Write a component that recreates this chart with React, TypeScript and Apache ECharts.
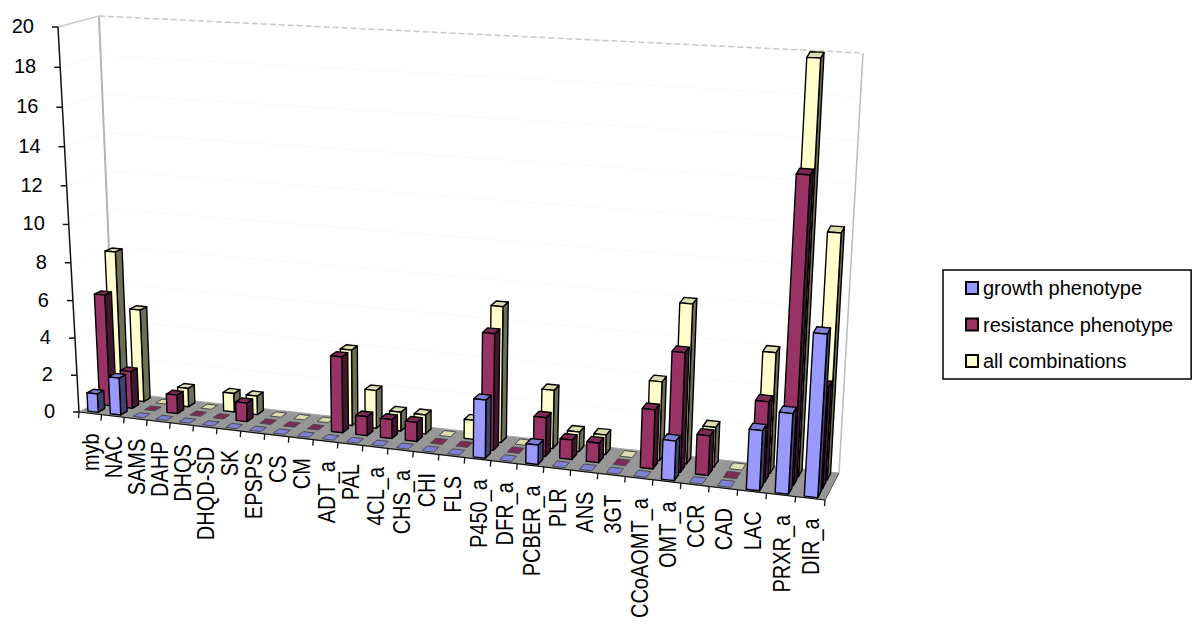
import React, { useEffect, useRef } from "react";
import * as echarts from "echarts";

const categories = ["myb","NAC","SAMS","DAHP","DHQS","DHQD-SD","SK","EPSPS","CS","CM","ADT_a","PAL","4CL_a","CHS_a","CHI","FLS","P450_a","DFR_a","PCBER_a","PLR","ANS","3GT","CCoAOMT_a","OMT_a","CCR","CAD","LAC","PRXR_a","DIR_a"];
const growth = [1,2,0,0,0,0,0,0,0,0,0,0,0,0,0,0,3,0,1,0,0,0,0,2,0,0,3,4,8];
const resistance = [6,2,0,1,0,0,1,0,0,0,4,1,1,1,0,0,6,0,2,1,1,0,3,6,2,0,4,15,5];
const allCombinations = [8,5,0,1,0,1,1,0,0,0,4,2,1,1,0,1,7,0,3,1,1,0,4,8,2,0,6,20,12];
const yTicks = [0,2,4,6,8,10,12,14,16,18,20];

const FONT = '"Liberation Sans", Arial, sans-serif';
const GRID = { left: 79, top: 27, width: 746, height: 385 };
type P = [number, number];
const FLB: P = [79, 412], FRB: P = [825, 500], BLB: P = [115, 392], BRB: P = [839, 473];
const FLT: P = [58, 27], FRT: P = [850, 78], BLT: P = [99, 16], BRT: P = [863, 53];

const mix = (a: P, b: P, t: number): P => [a[0] + (b[0] - a[0]) * t, a[1] + (b[1] - a[1]) * t];
const persp = (t: number, a: number) => (t * a) / (1 + (a - 1) * t);

// Scene projection: grid pixel from the axes' scales -> oblique 3D picture position
function project(px: number, py: number, d: number): P {
  const u = persp((px - GRID.left) / GRID.width, 0.87);
  const h = persp((GRID.top + GRID.height - py) / GRID.height, 0.95);
  const bottom = mix(mix(FLB, FRB, u), mix(BLB, BRB, u), d);
  const top = mix(mix(FLT, FRT, u), mix(BLT, BRT, u), d);
  return mix(bottom, top, h);
}
function at(api: any, pos: number, v: number, d: number): P {
  const c0 = api.coord([0, v]);
  const band = api.size([1, 0])[0];
  return project(c0[0] + pos * band, c0[1], d);
}
const poly = (points: P[], fill: string, stroke: string, lw = 1.4) => ({
  type: "polygon", shape: { points }, style: { fill, stroke, lineWidth: lw, lineJoin: "round" },
});
const line = (a: P, b: P, stroke: string, lw = 1, dash?: number[]) => ({
  type: "line", shape: { x1: a[0], y1: a[1], x2: b[0], y2: b[1] },
  style: { stroke, lineWidth: lw, lineDash: dash, fill: "none" },
});

function barSeries(name: string, values: number[], depth: number, front: string, side: string, top: string, z: number) {
  const hw = 0.23;
  return {
    type: "custom", name, z, silent: true,
    coordinateSystem: "cartesian2d",
    itemStyle: { color: front, borderColor: "#000", borderWidth: 1.5 },
    encode: { x: 0, y: 1 },
    data: values.map((v, i) => [i, v]),
    renderItem: (_: any, api: any) => {
      const i = api.value(0), v = api.value(1);
      const hd = 0.09 + (0.03 * i) / categories.length;
      const d0 = depth - hd, d1 = depth + hd, u0 = i - hw, u1 = i + hw;
      const topFace = [at(api, u0, v, d0), at(api, u1, v, d0), at(api, u1, v, d1), at(api, u0, v, d1)];
      if (v === 0) return { type: "group", children: [poly(topFace, top, "#4a4a4a", 1)] };
      return {
        type: "group",
        children: [
          poly([at(api, u1, 0, d0), at(api, u1, 0, d1), at(api, u1, v, d1), at(api, u1, v, d0)], side, "#000"),
          poly(topFace, top, "#000"),
          poly([at(api, u0, 0, d0), at(api, u1, 0, d0), at(api, u1, v, d0), at(api, u0, v, d0)], front, "#000"),
        ],
      };
    },
  };
}

const frameSeries = {
  type: "custom", name: "frame", z: 1, silent: true,
  coordinateSystem: "cartesian2d", encode: { x: 0, y: 1 },
  data: [[0, 0]],
  renderItem: (_: any, api: any) => {
    const children: any[] = [];
    const n = categories.length;
    const L = (pos: number, v: number, d: number) => at(api, pos, v, d);
    // faint wall gridlines
    yTicks.slice(1).forEach((v) => {
      children.push(line(L(-0.5, v, 1), L(n - 0.5, v, 1), "#fafafa"));
      children.push(line(L(-0.5, v, 0), L(-0.5, v, 1), "#fafafa"));
    });
    // walls
    children.push(line(L(-0.5, 0, 1), L(-0.5, 20, 1), "#b4b4b4", 2));
    children.push(line(L(n - 0.5, 0, 1), L(n - 0.5, 20, 1), "#bcbcbc", 1.5));
    children.push(line(L(-0.5, 20, 0), L(-0.5, 20, 1), "#cccccc", 1.5));
    children.push(line(L(-0.5, 20, 1), L(n - 0.5, 20, 1), "#c8c8c8", 1.5, [6, 3]));
    // floor
    children.push(poly([L(-0.5, 0, 0), L(n - 0.5, 0, 0), L(n - 0.5, 0, 1), L(-0.5, 0, 1)], "#979797", "#a8a8a8", 1));
    // axis lines
    children.push(line(L(-0.5, 0, 0), L(-0.5, 20, 0), "#111", 1.5));
    children.push(line(L(-0.5, 0, 0), L(n - 0.5, 0, 0), "#111", 1.2));
    children.push(line(L(n - 0.5, 0, 0), L(n - 0.5, 0, 1), "#555", 1));
    // y ticks and labels
    yTicks.forEach((v) => {
      const p = L(-0.5, v, 0);
      children.push(line([p[0] - 6, p[1]], p, "#111", 1.5));
      children.push({
        type: "text", x: p[0] - 24, y: p[1] - 1,
        style: { text: String(v), fill: "#000", font: `20px ${FONT}`, align: "right", verticalAlign: "middle" },
      });
    });
    // x ticks
    for (let i = 0; i <= n; i++) {
      const p = L(i - 0.5, 0, 0);
      children.push(line(p, [p[0] - 0.5, p[1] + 6], "#111", 1.3));
    }
    // category labels: glyphs are stretched across the reading direction in the reference
    categories.forEach((c, i) => {
      const p = L(i, 0, 0);
      children.push({
        type: "text", x: p[0] + 1, y: p[1] + 20, rotation: Math.PI / 2, scaleY: 1.18,
        style: { text: c, fill: "#000", font: `20px ${FONT}`, align: "right", verticalAlign: "middle" },
      });
    });
    return { type: "group", children };
  },
};

export default function App() {
  const ref = useRef<HTMLDivElement>(null);
  useEffect(() => {
    const chart = echarts.init(ref.current!, null, { renderer: "svg" });
    chart.setOption({
      animation: false,
      backgroundColor: "#fff",
      grid: GRID,
      xAxis: { type: "category", data: categories, show: false },
      yAxis: { type: "value", min: 0, max: 20, interval: 2, show: false },
      legend: {
        data: ["growth phenotype", "resistance phenotype", "all combinations"],
        orient: "vertical", left: 943, top: 270,
        padding: [8, 18, 8, 22], itemGap: 16.5, itemWidth: 12, itemHeight: 12,
        icon: "rect", selectedMode: false,
        borderColor: "#000", borderWidth: 1.5, backgroundColor: "#fff",
        textStyle: { fontFamily: FONT, fontSize: 20, color: "#000" },
      },
      series: [
        frameSeries,
        barSeries("all combinations", allCombinations, 0.83, "#ffffcc", "#6e6e55", "#dcdcb0", 2),
        barSeries("resistance phenotype", resistance, 0.5, "#993366", "#431630", "#7d2a55", 3),
        barSeries("growth phenotype", growth, 0.17, "#9999ff", "#414170", "#7f7fd6", 4),
      ],
    });
    return () => chart.dispose();
  }, []);
  return <div ref={ref} style={{ position: "absolute", left: 0, top: 0, width: 1200, height: 635 }} />;
}
